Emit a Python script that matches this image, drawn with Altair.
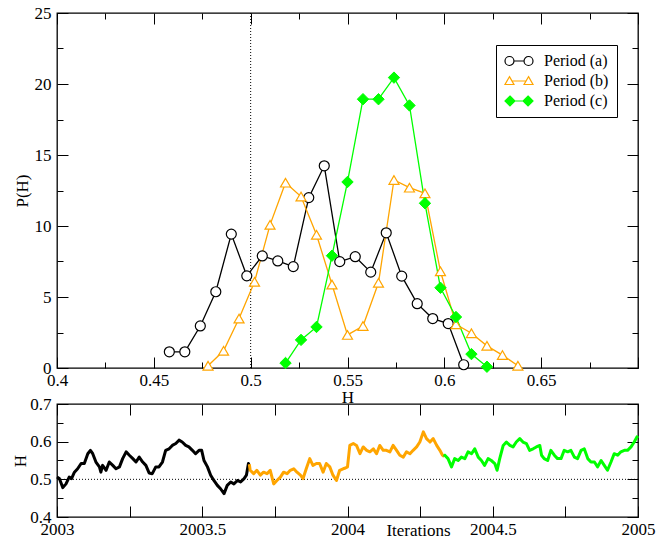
import altair as alt
import pandas as pd

FONT = "Liberation Serif"

series_names = ["Period (a)", "Period (b)", "Period (c)"]
series_colors = ["#000000", "#ffa500", "#00ff00"]
series_fills = ["#ffffff", "#ffffff", "#00ff00"]

# ---- histogram P(H) ----
a_H = [0.458, 0.466, 0.474, 0.482, 0.490, 0.498, 0.506, 0.514, 0.522, 0.530,
       0.538, 0.546, 0.554, 0.562, 0.570, 0.578, 0.586, 0.594, 0.602, 0.610]
a_P = [1.14, 1.14, 2.96, 5.37, 9.43, 6.49, 7.89, 7.54, 7.14, 12.0,
       14.24, 7.49, 7.84, 6.75, 9.52, 6.47, 4.53, 3.48, 3.13, 0.23]

b_H = [0.478, 0.486, 0.494, 0.502, 0.510, 0.518, 0.526, 0.534, 0.542, 0.550, 0.558,
       0.566, 0.574, 0.582, 0.590, 0.598, 0.606, 0.614, 0.622, 0.630, 0.638]
b_P = [0.16, 1.21, 3.48, 6.07, 10.08, 13.05, 12.07, 9.38, 5.88, 2.33, 2.96,
       6.0, 13.24, 12.7, 12.3, 6.81, 3.08, 2.45, 1.56, 0.91, 0.16]

c_H = [0.518, 0.526, 0.534, 0.542, 0.550, 0.558, 0.566, 0.574, 0.582, 0.590,
       0.598, 0.606, 0.614, 0.622]
c_P = [0.35, 1.98, 2.89, 7.91, 13.1, 18.93, 18.93, 20.45, 18.49, 11.6,
       5.65, 3.59, 0.98, 0.09]

ref_H = [0.5]

# ---- time series H(t) ----
ts_a_year = [2003.000, 2003.008, 2003.020, 2003.031, 2003.042, 2003.050, 2003.060, 2003.071,
             2003.083, 2003.094, 2003.106, 2003.115, 2003.123, 2003.134, 2003.146, 2003.151,
             2003.157, 2003.169, 2003.180, 2003.192, 2003.203, 2003.215, 2003.226, 2003.238,
             2003.249, 2003.261, 2003.272, 2003.283, 2003.295, 2003.306, 2003.317, 2003.328,
             2003.340, 2003.351, 2003.363, 2003.374, 2003.386, 2003.397, 2003.409, 2003.420,
             2003.431, 2003.443, 2003.454, 2003.466, 2003.477, 2003.489, 2003.498, 2003.506,
             2003.518, 2003.529, 2003.540, 2003.552, 2003.563, 2003.575, 2003.586, 2003.598,
             2003.609, 2003.621, 2003.632, 2003.644, 2003.652, 2003.659, 2003.662]
ts_a_H = [0.506, 0.502, 0.478, 0.488, 0.506, 0.502, 0.519, 0.528,
          0.542, 0.542, 0.568, 0.577, 0.568, 0.546, 0.533, 0.519,
          0.537, 0.524, 0.546, 0.537, 0.528, 0.533, 0.555, 0.573,
          0.564, 0.555, 0.546, 0.559, 0.546, 0.537, 0.517, 0.515,
          0.533, 0.533, 0.546, 0.577, 0.581, 0.590, 0.595, 0.604,
          0.599, 0.590, 0.586, 0.577, 0.568, 0.577, 0.577, 0.550,
          0.533, 0.511, 0.497, 0.484, 0.475, 0.462, 0.484, 0.493,
          0.488, 0.497, 0.493, 0.502, 0.511, 0.542, 0.540]

ts_b_year = [2003.662, 2003.665, 2003.677, 2003.688, 2003.700, 2003.711, 2003.723, 2003.734,
             2003.746, 2003.757, 2003.769, 2003.780, 2003.792, 2003.803, 2003.815, 2003.826,
             2003.838, 2003.847, 2003.858, 2003.870, 2003.881, 2003.893, 2003.904, 2003.916,
             2003.927, 2003.939, 2003.950, 2003.962, 2003.973, 2003.985, 2003.993, 2004.000,
             2004.008, 2004.020, 2004.031, 2004.043, 2004.054, 2004.066, 2004.077, 2004.089,
             2004.100, 2004.111, 2004.123, 2004.134, 2004.146, 2004.157, 2004.169, 2004.180,
             2004.192, 2004.203, 2004.215, 2004.226, 2004.238, 2004.249, 2004.261, 2004.272,
             2004.284, 2004.295, 2004.307, 2004.318, 2004.327, 2004.333]
ts_b_H = [0.540, 0.524, 0.515, 0.524, 0.511, 0.519, 0.515, 0.524,
          0.488, 0.497, 0.506, 0.519, 0.515, 0.524, 0.528, 0.519,
          0.511, 0.502, 0.528, 0.555, 0.537, 0.542, 0.542, 0.519,
          0.542, 0.533, 0.511, 0.497, 0.524, 0.528, 0.530, 0.533,
          0.590, 0.595, 0.590, 0.568, 0.586, 0.577, 0.573, 0.581,
          0.568, 0.590, 0.577, 0.577, 0.573, 0.590, 0.577, 0.564,
          0.559, 0.573, 0.568, 0.577, 0.586, 0.599, 0.626, 0.608,
          0.599, 0.608, 0.590, 0.577, 0.564, 0.560]

ts_c_year = [2004.333, 2004.335, 2004.346, 2004.358, 2004.369, 2004.381, 2004.392, 2004.404,
             2004.415, 2004.427, 2004.438, 2004.450, 2004.461, 2004.472, 2004.484, 2004.495,
             2004.507, 2004.515, 2004.524, 2004.536, 2004.547, 2004.559, 2004.570, 2004.581,
             2004.593, 2004.604, 2004.616, 2004.627, 2004.639, 2004.650, 2004.662, 2004.668,
             2004.677, 2004.689, 2004.700, 2004.712, 2004.723, 2004.735, 2004.746, 2004.758,
             2004.769, 2004.781, 2004.792, 2004.804, 2004.815, 2004.827, 2004.838, 2004.850,
             2004.861, 2004.873, 2004.884, 2004.895, 2004.907, 2004.918, 2004.930, 2004.941,
             2004.953, 2004.964, 2004.976, 2004.987, 2004.996, 2005.000]
ts_c_H = [0.560, 0.564, 0.555, 0.533, 0.555, 0.550, 0.559, 0.555,
          0.573, 0.568, 0.581, 0.559, 0.550, 0.537, 0.555, 0.550,
          0.542, 0.524, 0.555, 0.590, 0.599, 0.590, 0.586, 0.599,
          0.608, 0.599, 0.595, 0.577, 0.581, 0.586, 0.590, 0.564,
          0.555, 0.550, 0.577, 0.564, 0.555, 0.555, 0.577, 0.573,
          0.577, 0.559, 0.555, 0.577, 0.581, 0.555, 0.546, 0.546,
          0.533, 0.550, 0.537, 0.524, 0.546, 0.568, 0.564, 0.573,
          0.577, 0.577, 0.586, 0.599, 0.612, 0.615]

# tick / label values
top_x_major = [0.4, 0.45, 0.5, 0.55, 0.6, 0.65, 0.7]
top_x_labels = [0.4, 0.45, 0.5, 0.55, 0.6, 0.65]
top_x_minor = [0.425, 0.475, 0.525, 0.575, 0.625, 0.675]
top_y_major = [0, 5, 10, 15, 20, 25]
top_y_minor = [2.5, 7.5, 12.5, 17.5, 22.5]
bot_x_major = [2003, 2003.25, 2003.5, 2003.75, 2004, 2004.25, 2004.5, 2004.75, 2005]
bot_x_labels = [2003, 2003.5, 2004, 2004.5, 2005]
bot_y_major = [0.4, 0.5, 0.6, 0.7]
bot_y_minor = [0.45, 0.55, 0.65]

# ---- tables ----
hist = pd.concat([
    pd.DataFrame({"series": series_names[0], "H": a_H, "P": a_P}),
    pd.DataFrame({"series": series_names[1], "H": b_H, "P": b_P}),
    pd.DataFrame({"series": series_names[2], "H": c_H, "P": c_P}),
], ignore_index=True)
ts = pd.concat([
    pd.DataFrame({"series": series_names[0], "year": ts_a_year, "H": ts_a_H}),
    pd.DataFrame({"series": series_names[1], "year": ts_b_year, "H": ts_b_H}),
    pd.DataFrame({"series": series_names[2], "year": ts_c_year, "H": ts_c_H}),
], ignore_index=True)
ref = pd.DataFrame({"H": ref_H})

MAJ, MIN = 11, 6
TOP_W, TOP_H = 581, 355
BOT_H = 113

# ---------------- top panel ----------------
xs_t = alt.Scale(domain=[0.4, 0.7], nice=False, zero=False)
ys_t = alt.Scale(domain=[0, 25], nice=False, zero=False)


def tx(axis):
    return alt.X("H:Q", scale=xs_t, axis=axis)


def ty(axis, field="P:Q"):
    return alt.Y(field, scale=ys_t, axis=axis)


def tick_axis(orient, values, size):
    return alt.Axis(orient=orient, values=values, labels=False, domain=False, ticks=True,
                    tickSize=size, offset=-size, title=None, grid=False)


hbase = alt.Chart(hist)
ax_t1 = hbase.mark_point(opacity=0).encode(
    x=tx(alt.Axis(orient="bottom", values=top_x_labels, ticks=False, domain=False,
                  labelPadding=4, labelFlush=False, format="~g", title="H",
                  titleX=TOP_W / 2, titleY=34, titleBaseline="alphabetic",
                  titleAlign="center", grid=False)),
    y=ty(alt.Axis(orient="left", values=top_y_major, ticks=False, domain=False,
                  labelPadding=6, labelFlush=False, format="~g", title="P(H)", titleX=-29.5,
                  titleY=TOP_H / 2, titleAngle=270, titleBaseline="alphabetic",
                  titleAlign="center", grid=False)))
ax_t2 = hbase.mark_point(opacity=0).encode(x=tx(tick_axis("bottom", top_x_major, MAJ)),
                                           y=ty(tick_axis("left", top_y_major, MAJ)))
ax_t3 = hbase.mark_point(opacity=0).encode(x=tx(tick_axis("bottom", top_x_minor, MIN)),
                                           y=ty(tick_axis("left", top_y_minor, MIN)))
ax_t4 = hbase.mark_point(opacity=0).encode(x=tx(tick_axis("top", top_x_major, MAJ)),
                                           y=ty(tick_axis("right", top_y_major, MAJ)))
ax_t5 = hbase.mark_point(opacity=0).encode(x=tx(tick_axis("top", top_x_minor, MIN)),
                                           y=ty(tick_axis("right", top_y_minor, MIN)))

ref_rule = alt.Chart(ref).mark_rule(color="black", strokeWidth=1, strokeDash=[1, 2]).encode(
    x=alt.X("H:Q", scale=xs_t, axis=None))

marker_specs = [
    dict(shape="circle", size=100, fill="#ffffff", stroke="#000000", strokeWidth=1.2),
    dict(shape="triangle-up", size=100, fill="#ffffff", stroke="#ffa500", strokeWidth=1.2),
    dict(shape="diamond", size=130, fill="#00ff00", stroke="#00ff00", strokeWidth=1),
]

hist_lines = []
hist_points = []
for name, col, spec in zip(series_names, series_colors, marker_specs):
    sub = hbase.transform_filter(alt.datum.series == name)
    hist_lines.append(sub.mark_line(color=col, strokeWidth=1.3).encode(x=tx(None), y=ty(None)))
    hist_points.append(sub.mark_point(filled=True, opacity=1, **spec).encode(
        x=tx(None), y=ty(None)))

# legend symbols: marker - line - marker
circ_path = ("M-1,0A0.64,0.64 0 1,0 0.28,0A0.64,0.64 0 1,0 -1,0Z"
             "M0.28,0L1.72,0"
             "M1.72,0A0.64,0.64 0 1,0 3,0A0.64,0.64 0 1,0 1.72,0Z")
tri_path = ("M-0.36,-0.62L0.28,0.5L-1,0.5Z"
            "M-0.04,0L2.04,0"
            "M2.36,-0.62L3,0.5L1.72,0.5Z")
dia_path = ("M-0.29,-0.71L0.42,0L-0.29,0.71L-1,0Z"
            "M0.42,0L1.58,0"
            "M2.29,-0.71L3,0L2.29,0.71L1.58,0Z")
legend_paths = [circ_path, tri_path, dia_path]

LEG = alt.Legend(title=None, orient="none", legendX=439, legendY=32, strokeColor="black",
                 fillColor="white", padding=8, symbolSize=196, symbolStrokeWidth=1.2,
                 labelFont=FONT, labelFontSize=16, labelColor="black", labelOffset=24,
                 rowPadding=4, cornerRadius=0)

# legend carrier: points placed far below the plot and clipped away
legend_layer = hbase.transform_calculate(off="-1000").mark_point(
    filled=True, strokeWidth=1.2, opacity=1, clip=True).encode(
    x=tx(None), y=ty(None, "off:Q"),
    shape=alt.Shape("series:N", scale=alt.Scale(domain=series_names, range=legend_paths),
                    legend=LEG),
    stroke=alt.Stroke("series:N", scale=alt.Scale(domain=series_names, range=series_colors),
                      legend=LEG),
    fill=alt.Fill("series:N", scale=alt.Scale(domain=series_names, range=series_fills),
                  legend=LEG))

top = alt.layer(ax_t1, ax_t2, ax_t3, ax_t4, ax_t5, ref_rule, *hist_lines, *hist_points,
                legend_layer).resolve_axis(x="independent", y="independent").properties(
    width=TOP_W, height=TOP_H)

# ---------------- bottom panel ----------------
xs_b = alt.Scale(domain=[2003, 2005], nice=False, zero=False)
ys_b = alt.Scale(domain=[0.4, 0.7], nice=False, zero=False)


def bx(axis):
    return alt.X("year:Q", scale=xs_b, axis=axis)


def by(axis):
    return alt.Y("H:Q", scale=ys_b, axis=axis)


tbase = alt.Chart(ts)
ax_b1 = tbase.mark_point(opacity=0).encode(
    x=bx(alt.Axis(orient="bottom", values=bot_x_labels, ticks=False, domain=False,
                  labelPadding=4, labelFlush=False, format="~g", title="Iterations",
                  titleX=361, titleY=18, titleBaseline="alphabetic", titleAlign="center",
                  grid=False)),
    y=by(alt.Axis(orient="left", values=bot_y_major, ticks=False, domain=False,
                  labelPadding=6, labelFlush=False, format="~g", title="H", titleX=-31.5,
                  titleY=BOT_H / 2, titleAngle=270, titleBaseline="alphabetic",
                  titleAlign="center", grid=False)))
ax_b2 = tbase.mark_point(opacity=0).encode(x=bx(tick_axis("bottom", bot_x_major, MAJ)),
                                           y=by(tick_axis("left", bot_y_major, MAJ)))
ax_b3 = tbase.mark_point(opacity=0).encode(x=bx(None),
                                           y=by(tick_axis("left", bot_y_minor, MIN)))
ax_b4 = tbase.mark_point(opacity=0).encode(x=bx(tick_axis("top", bot_x_major, MAJ)),
                                           y=by(tick_axis("right", bot_y_major, MAJ)))
ax_b5 = tbase.mark_point(opacity=0).encode(x=bx(None),
                                           y=by(tick_axis("right", bot_y_minor, MIN)))

ref_rule_b = alt.Chart(ref).mark_rule(color="black", strokeWidth=1, strokeDash=[1, 2]).encode(
    y=alt.Y("H:Q", scale=ys_b, axis=None))

ts_lines = []
for name, col in zip(series_names, series_colors):
    ts_lines.append(tbase.transform_filter(alt.datum.series == name).mark_line(
        color=col, strokeWidth=3, strokeJoin="round").encode(
        x=bx(None), y=by(None), order="year:Q"))

bottom = alt.layer(ax_b1, ax_b2, ax_b3, ax_b4, ax_b5, ref_rule_b, *ts_lines).resolve_axis(
    x="independent", y="independent").properties(width=TOP_W, height=BOT_H)

chart = alt.vconcat(top, bottom, spacing=36, bounds="flush").properties(
    padding={"left": 2, "top": -5, "right": 5, "bottom": 5}
).configure_view(stroke="black", strokeWidth=1.3).configure_axis(
    labelFont=FONT, labelFontSize=17, labelColor="black",
    titleFont=FONT, titleFontSize=17, titleFontWeight="normal", titleColor="black",
    tickColor="black", tickWidth=1, grid=False, domain=False
).configure_legend(labelFont=FONT, labelFontSize=16, labelColor="black")

chart.save("out.html", embed_options={"renderer": "svg", "actions": False})
